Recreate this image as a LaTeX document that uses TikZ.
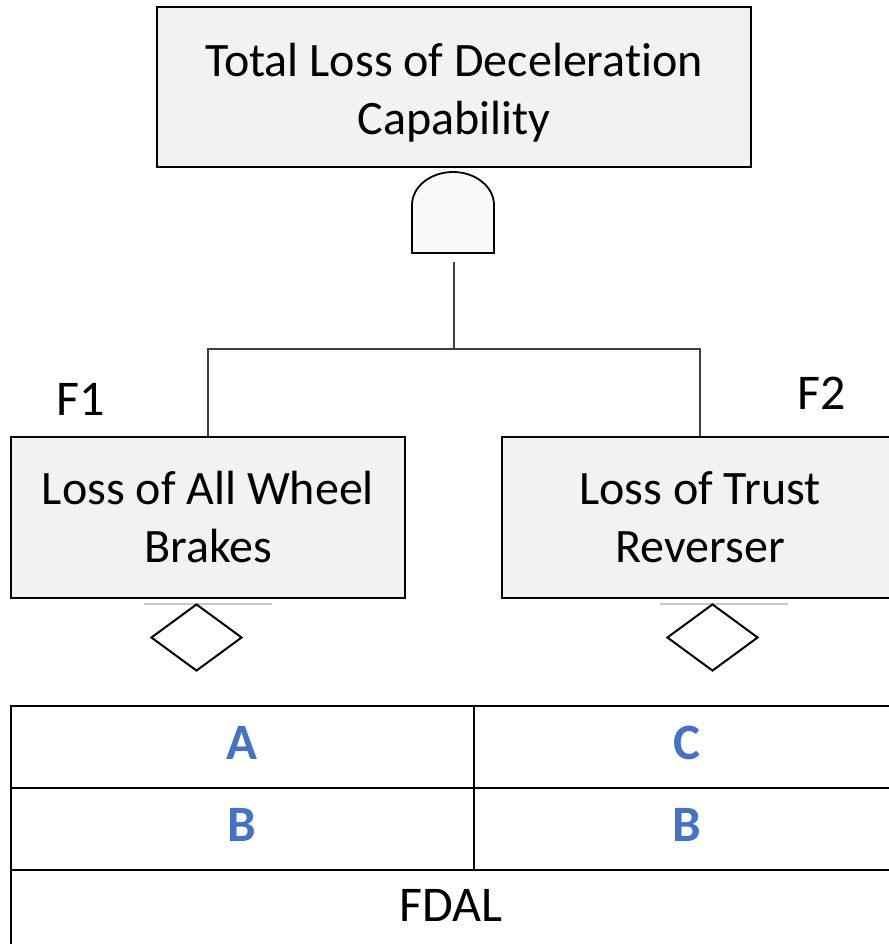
\documentclass[tikz,border=0pt]{standalone}
\usepackage{fontspec}
\setmainfont{Carlito}[Ligatures={NoCommon}]
\usetikzlibrary{shapes.geometric}
\definecolor{boxfill}{HTML}{F2F2F2}
\definecolor{lblue}{HTML}{4472C4}
\definecolor{bargray}{HTML}{C8C8C8}
\begin{document}
\begin{tikzpicture}[x=1pt,y=-1pt,
  evbox/.style={draw=black, line width=1.6pt, fill=boxfill, inner sep=0pt, align=center,
    font=\fontsize{48}{58}\selectfont},
  conn/.style={draw=black!75, line width=1.2pt},
  undev/.style={draw=black, line width=2pt, fill=white, diamond, aspect=1.36,
    minimum width=91pt, minimum height=67pt, inner sep=0pt},
  gatepath/.style={draw=black, line width=1.8pt, fill=white!98!black},
  flabel/.style={inner sep=0pt, font=\fontsize{50}{60}\selectfont},
  tline/.style={draw=black, line width=1.8pt},
  cellA/.style={inner sep=0pt, text=lblue, font=\fontsize{51}{60}\selectfont\bfseries},
  cellF/.style={inner sep=0pt, font=\fontsize{50}{60}\selectfont},
  bar/.style={draw=bargray, line width=2.5pt}
]
\useasboundingbox (0,0) rectangle (888,944);
\fill[white] (0,0) rectangle (888,944);

% top event
\node[evbox, minimum width=594pt, minimum height=160pt] (top) at (454,87) {};
\node[inner sep=0pt, align=center, font=\fontsize{48}{58}\selectfont] (toptext) at (454,93) {Total Loss of Deceleration\\Capability};

% AND gate
\path[gatepath] (412,253) -- (412,205) .. controls (412,186.8) and (430.4,172) .. (453,172)
  .. controls (475.6,172) and (494,186.8) .. (494,205) -- (494,253) -- cycle;
\coordinate (gateout) at (454,262);
\coordinate (junc) at (454,349);

% intermediate events
\node[evbox, minimum width=394pt, minimum height=161pt] (f1) at (208,517.5) {Loss of All Wheel\\Brakes};
\node[evbox, minimum width=396pt, minimum height=161pt] (f2) at (700,517.5) {Loss of Trust\\Reverser};

\node[flabel] (l1) at (81,399) {F1};
\node[flabel] (l2) at (822,393) {F2};

% connectors
\draw[conn] (gateout) -- (junc);
\draw[conn] (junc) -| (f1.north);
\draw[conn] (junc) -| (f2.north);

% undeveloped events
\draw[bar] (144,604) -- (272,604);
\draw[bar] (660,604) -- (788,604);
\node[undev] (d1) at (196.5,637.5) {};
\node[undev] (d2) at (712.5,637.5) {};

% table
\draw[tline] (11,950) -- (11,706) -- (900,706);
\draw[tline] (11,788) -- (900,788);
\draw[tline] (11,870) -- (900,870);
\draw[tline] (474,706) -- (474,870);

\node[cellA] (ta) at (242,742.5) {A};
\node[cellA] (tc) at (687,742.5) {C};
\node[cellA] (tb1) at (242,824.5) {B};
\node[cellA] (tb2) at (687,824.5) {B};
\node[cellF] (fdal) at (451,905) {FDAL};
\end{tikzpicture}
\end{document}
